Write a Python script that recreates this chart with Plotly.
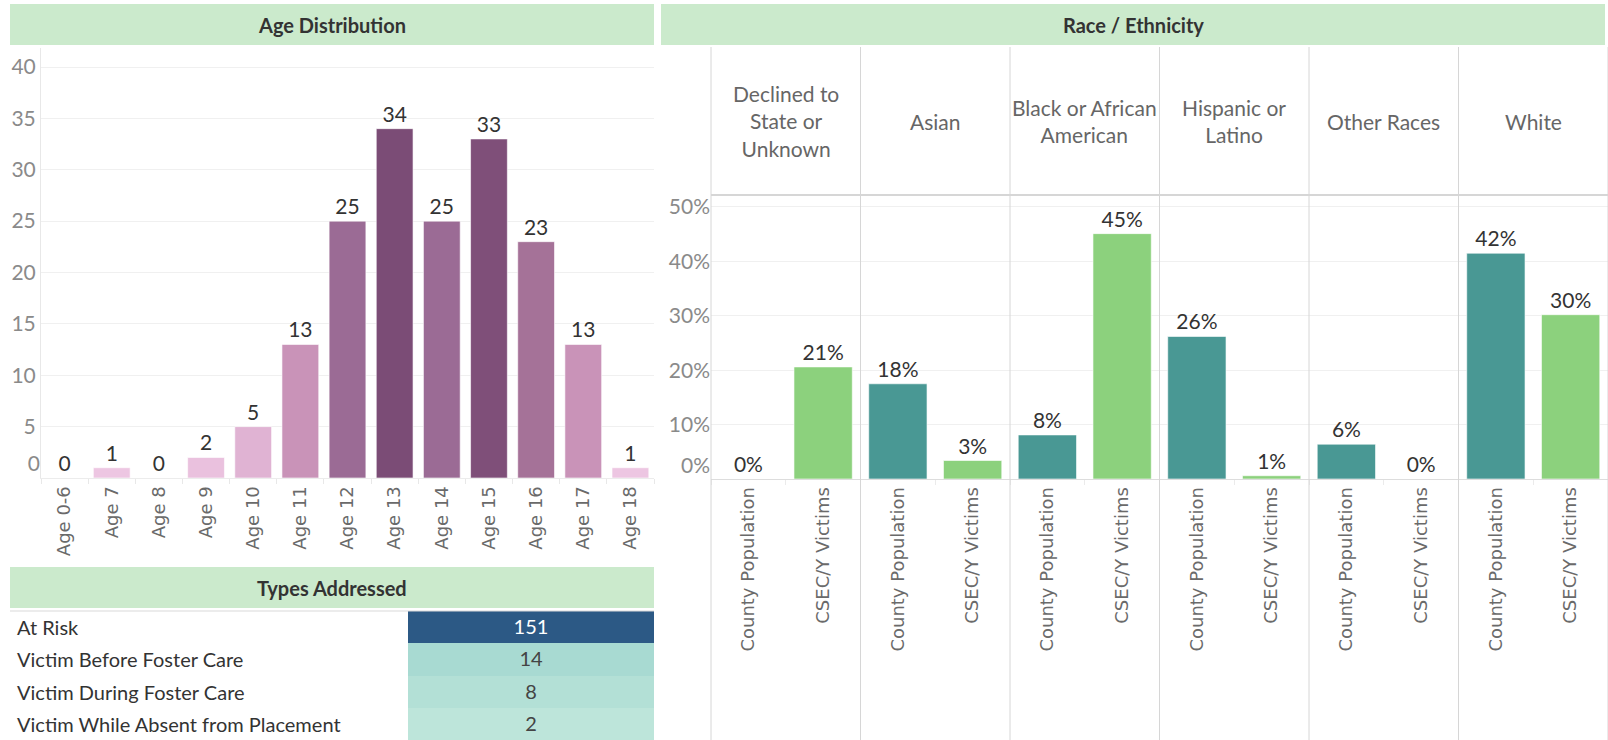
import plotly.graph_objects as go

# ---------------- data ----------------
age_labels = ["Age 0-6", "Age 7", "Age 8", "Age 9", "Age 10", "Age 11", "Age 12",
              "Age 13", "Age 14", "Age 15", "Age 16", "Age 17", "Age 18"]
age_counts = [0, 1, 0, 2, 5, 13, 25, 34, 25, 33, 23, 13, 1]
age_ticks = [0, 5, 10, 15, 20, 25, 30, 35, 40]

race_labels = ["Declined to<br>State or<br>Unknown", "Asian", "Black or African<br>American",
               "Hispanic or<br>Latino", "Other Races", "White"]
series_names = ["County Population", "CSEC/Y Victims"]
county_pct = [0.0, 0.175, 0.081, 0.262, 0.064, 0.415]
csec_pct = [0.206, 0.034, 0.451, 0.006, 0.0, 0.302]
pct_ticks = [0, 0.1, 0.2, 0.3, 0.4, 0.5]

type_labels = ["At Risk", "Victim Before Foster Care", "Victim During Foster Care",
               "Victim While Absent from Placement"]
type_counts = [151, 14, 8, 2]

# ---------------- layout helpers ----------------
W, H = 1608, 740
def px(x):
    return x / W
def py(y):
    return 1 - y / H

HEADER_BG = "#cbeacc"
NUM_FONT = "Lato"
TXT_FONT = "Lato"
ROT_FONT = "DejaVu Sans"
TEAL = "#499894"
GREEN = "#8cd17d"

fig = go.Figure()

# ---------- Age distribution ----------
fig.add_trace(go.Bar(
    x=age_labels, y=age_counts,
    marker=dict(color=age_counts, cmin=1, cmax=34,
                colorscale=[[0, "#edc6e2"], [0.12, "#e0b3d3"], [0.36, "#c993b8"],
                            [0.67, "#a57298"], [0.73, "#9b6b95"], [1, "#7b4c76"]],
                line=dict(color="rgba(255,255,255,0.6)", width=1)),
    texttemplate="%{y}", textposition="outside", cliponaxis=False,
    constraintext="none",
    textfont=dict(family=NUM_FONT, size=21, color="#333333"),
    xaxis="x", yaxis="y", showlegend=False, hoverinfo="x+y",
))
# empty helper traces so the shifted zero-label axes are drawn
fig.add_trace(go.Scatter(x=[], y=[], xaxis="x", yaxis="y9", mode="markers",
                         showlegend=False, hoverinfo="skip"))

# ---------- Race / Ethnicity ----------
col_w = (W - 711) / 6.0
for i in range(6):
    fig.add_trace(go.Bar(
        x=series_names, y=[county_pct[i], csec_pct[i]],
        marker=dict(color=[TEAL, GREEN], line=dict(color="rgba(255,255,255,0.6)", width=1)),
        texttemplate="%{y:.0%}", textposition="outside", cliponaxis=False,
        constraintext="none",
        textfont=dict(family=NUM_FONT, size=21, color="#333333"),
        xaxis=f"x{i+2}", yaxis="y2", showlegend=False,
    ))
fig.add_trace(go.Scatter(x=[], y=[], xaxis="x2", yaxis="y10", mode="markers",
                         showlegend=False, hoverinfo="skip"))

# ---------- Types addressed table ----------
fig.add_trace(go.Heatmap(
    x=["Count"], y=type_labels, z=[[v] for v in type_counts],
    colorscale=[[0, "#bde5da"], [0.25, "#7dc3c0"], [0.5, "#4aa0b2"],
                [0.75, "#2f7a9c"], [1, "#2c5985"]],
    showscale=False, texttemplate="%{z}",
    textfont=dict(family=TXT_FONT, size=20),
    xaxis="x8", yaxis="y8", hoverinfo="y+z",
))

tick_font = dict(family=NUM_FONT, size=21, color="#8a8a8a")
rot_font = dict(family=ROT_FONT, size=18, color="#6a6a6a")

layout = dict(
    width=W, height=H, margin=dict(l=0, r=0, t=0, b=0, autoexpand=False),
    paper_bgcolor="white", plot_bgcolor="white",
    bargap=0.22,
    font=dict(family=TXT_FONT, color="#333333"),
    xaxis=dict(domain=[px(41), px(654)], anchor="y", type="category",
               tickangle=-90, tickfont=rot_font, automargin=False,
               ticks="outside", tickson="boundaries", ticklen=5, tickcolor="#e8e8e8",
               showgrid=False, showline=True, linecolor="#ececec", fixedrange=True),
    yaxis=dict(domain=[py(478), py(48)], anchor="x", range=[0, 41.85],
               tickvals=age_ticks[1:], tickfont=tick_font, automargin=False,
               gridcolor="#f0f0f0", zeroline=False, showline=True, linecolor="#e8e8e8",
               ticks="", fixedrange=True),
    yaxis9=dict(domain=[py(478), py(48)], anchor="x", overlaying="y", range=[0, 41.85],
                tickvals=age_ticks[:1], tickfont=tick_font, ticklabelshift=-14,
                automargin=False,
                showgrid=False, zeroline=False, showline=False, ticks="", fixedrange=True),
    yaxis2=dict(domain=[py(479), py(195)], anchor="x2", range=[0, 0.522],
                tickvals=pct_ticks[1:], tickformat=".0%", tickfont=tick_font,
                automargin=False,
                gridcolor="#f0f0f0", zeroline=False, showline=False, ticks="",
                fixedrange=True),
    yaxis10=dict(domain=[py(479), py(195)], anchor="x2", overlaying="y2", range=[0, 0.522],
                 tickvals=pct_ticks[:1], tickformat=".0%", tickfont=tick_font,
                 ticklabelshift=-13, automargin=False,
                 showgrid=False, zeroline=False, showline=False,
                 ticks="", fixedrange=True),
    xaxis8=dict(domain=[px(408), px(654)], anchor="y8", visible=False, fixedrange=True,
                automargin=False),
    yaxis8=dict(domain=[py(740), py(611)], anchor="x8", visible=False, automargin=False,
                autorange="reversed", type="category", fixedrange=True),
)
for i in range(6):
    x0 = 711 + col_w * i
    layout[f"xaxis{i+2}"] = dict(
        domain=[px(x0), px(x0 + col_w)], anchor="y2", type="category",
        tickangle=-90, tickfont=rot_font, automargin=False,
        ticks="outside", tickson="boundaries", ticklen=5, tickcolor="#ebebeb",
        showgrid=False, showline=True, linecolor="#dddddd", fixedrange=True)
fig.update_layout(**layout)

shapes = []
annotations = []
# header bars
for (x0, x1, y0, y1, title) in [(10, 654, 4, 45, "Age Distribution"),
                                (661, 1605, 4, 45, "Race / Ethnicity"),
                                (10, 654, 567, 608, "Types Addressed")]:
    shapes.append(dict(type="rect", xref="paper", yref="paper",
                       x0=px(x0), x1=px(x1), y0=py(y1), y1=py(y0),
                       fillcolor=HEADER_BG, line=dict(width=0), layer="below"))
    annotations.append(dict(text=title, xref="paper", yref="paper",
                            x=px((x0 + x1) / 2), y=py((y0 + y1) / 2),
                            xanchor="center", yanchor="middle", showarrow=False,
                            font=dict(family=TXT_FONT, size=20, color="#333333", weight=700)))
# race column separators
for i in range(7):
    x = 711 + col_w * i
    shapes.append(dict(type="line", xref="paper", yref="paper",
                       x0=px(x), x1=px(x), y0=0, y1=py(47),
                       line=dict(color="#d6d6d6", width=1)))
shapes.append(dict(type="line", xref="paper", yref="paper",
                   x0=px(711), x1=1, y0=py(195), y1=py(195),
                   line=dict(color="#d6d6d6", width=2)))
# table top border
shapes.append(dict(type="line", xref="paper", yref="paper",
                   x0=px(10), x1=px(654), y0=py(611), y1=py(611),
                   line=dict(color="#d9d9d9", width=1)))
# race column headers
for i, lab in enumerate(race_labels):
    annotations.append(dict(text=lab, xref=f"x{i+2} domain", yref="paper",
                            x=0.5, y=py(121), xanchor="center", yanchor="middle",
                            showarrow=False,
                            font=dict(family=NUM_FONT, size=21, color="#666666")))
# table row labels
for lab in type_labels:
    annotations.append(dict(text=lab, xref="paper", yref="y8", x=px(15), y=lab,
                            xanchor="left", yanchor="middle", showarrow=False,
                            font=dict(family=TXT_FONT, size=20, color="#333333")))
fig.update_layout(shapes=shapes, annotations=annotations)

fig.write_html(
    "out.html",
    config={"displayModeBar": False},
    post_script="document.body.style.margin='0';document.body.style.overflow='hidden';",
)
